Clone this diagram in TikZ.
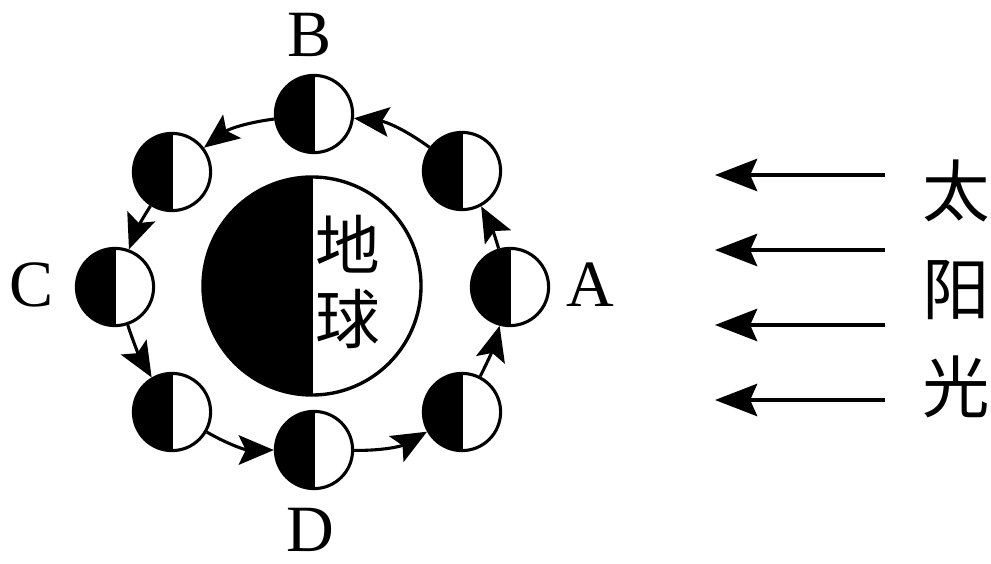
\documentclass[tikz,border=0pt]{standalone}
\usepackage{fontspec}
\setmainfont{Liberation Serif}
\newfontfamily\cjk{Noto Sans CJK SC}
\usetikzlibrary{arrows.meta}

\tikzset{
  phase/.style={draw,circle,line width=2.2pt,minimum size=1.93cm,inner sep=0pt,fill=white,
    path picture={\fill[black] (path picture bounding box.south west) rectangle (path picture bounding box.north);
      \draw[line width=1.8pt] (path picture bounding box.south) -- (path picture bounding box.north);}},
  orbit/.style={line width=2.2pt,-{Stealth[length=25pt,width=21pt,inset=5pt]}},
  sunray/.style={line width=2.6pt,-{Stealth[length=30pt,width=23pt,inset=5pt]}},
  letter/.style={font=\fontsize{47}{47}\selectfont,inner sep=0pt}
}

\begin{document}
\begin{tikzpicture}[x=0.025cm,y=-0.025cm]
        \useasboundingbox (0,0) rectangle (991,564);

        \node[phase,minimum size=5.45cm,line width=2.4pt] (earth) at (312,286) {};
        \node[font={\cjk\fontsize{46}{52}\selectfont},align=center,inner sep=0pt] (earthlbl) at (348,282) {地\\球};

        \node[phase] (mA) at (510,287) {};
        \node[phase] (mTR) at (462,171) {};
        \node[phase] (mB) at (314,114) {};
        \node[phase] (mTL) at (172,172) {};
        \node[phase] (mC) at (115,287) {};
        \node[phase] (mBL) at (172,412) {};
        \node[phase] (mD) at (314,450) {};
        \node[phase] (mBR) at (462,412) {};

        \draw[orbit] (mA) to[bend right=6] (mTR);
        \draw[orbit] (mTR) to[bend right=15] (mB);
        \draw[orbit] (mB) to[bend right=15] (mTL);
        \draw[orbit] (mTL) to[bend right=6] (mC);
        \draw[orbit] (mC) to[bend right=6] (mBL);
        \draw[orbit] (mBL) to[bend right=15] (mD);
        \draw[orbit] (mD) to[bend right=15] (mBR);
        \draw[orbit] (mBR) to[bend right=6] (mA);

        \node[letter] (lA) at (590,285) {A};
        \node[letter] (lB) at (310,35) {B};
        \node[letter] (lC) at (32,285) {C};
        \node[letter] (lD) at (310,530) {D};

        \foreach \y [count=\i] in {175,250,325,400} {
            \coordinate (s\i) at (885,\y);
            \coordinate (t\i) at (715,\y);
            \draw[sunray] (s\i) -- (t\i);
        }
        \node[font={\cjk\fontsize{48}{69.5}\selectfont},align=center,inner sep=0pt] (sunlbl) at (956,289) {太\\阳\\光};
    \end{tikzpicture}
\end{document}
